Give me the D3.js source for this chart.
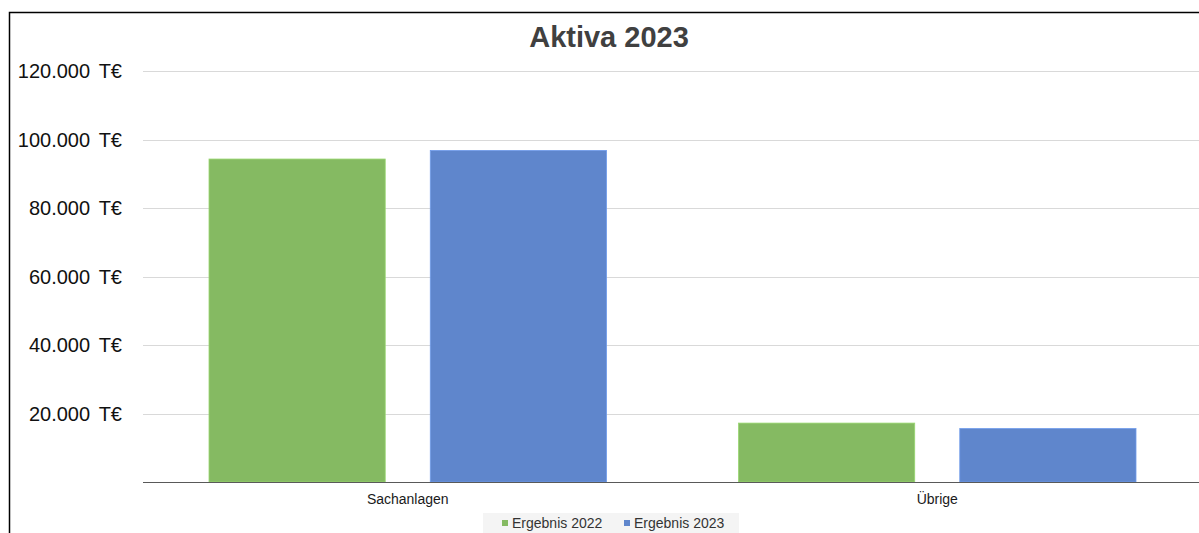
<!DOCTYPE html>
<html><head><meta charset="utf-8">
<script src="https://cdn.jsdelivr.net/npm/d3@7"></script>
<style>body{margin:0;background:#fff;overflow:hidden}svg{display:block}</style>
</head><body>
<svg id="c" width="1199" height="533"></svg>
<script>
const categories = ["Sachanlagen", "Übrige"];
const seriesNames = ["Ergebnis 2022", "Ergebnis 2023"];
const values2022 = [94300, 17200];
const values2023 = [96800, 15600];
const yTicks = [20000, 40000, 60000, 80000, 100000, 120000];
const colors = ["#85BA62", "#5F86CC"];

(function(){
const svg = d3.select("#c");
const W = 1199, H = 533;
const FF = "Liberation Sans, Arial, sans-serif";
svg.append("rect").attr("x",0).attr("y",0).attr("width",W).attr("height",H).attr("fill","#fff");
// frame
svg.append("rect").attr("x",9.5).attr("y",12.5).attr("width",1300).attr("height",600)
  .attr("fill","none").attr("stroke","#000").attr("stroke-width",1.5);

const pl = 143, pr = 1202, pt = 71, pb = 482;
const x = d3.scaleBand().domain(categories).range([pl, pr]).paddingInner(0).paddingOuter(0);
const bw = x.bandwidth();
const x1 = d3.scaleBand().domain(seriesNames).range([66, bw-66]).paddingInner(45/221).paddingOuter(0);
const y = d3.scaleLinear().domain([0,120000]).range([pb, pt]);

// gridlines
svg.append("g").selectAll("line").data(yTicks).join("line")
  .attr("x1", pl).attr("x2", W).attr("y1", d=>Math.round(y(d))+0.5).attr("y2", d=>Math.round(y(d))+0.5)
  .attr("stroke","#d9d9d9").attr("stroke-width",1);

// y labels
const yl = svg.append("g").selectAll("text").data(yTicks).join("text")
  .attr("x", 122).attr("y", d=>y(d)).attr("dy","0.35em")
  .attr("text-anchor","end").attr("font-family",FF)
  .attr("font-size",20).attr("fill","#111");
yl.append("tspan").text(d => d3.format(",")(d).replace(/,/g, ".") + "\u00a0");
yl.append("tspan").attr("dx",3).text("T€");

// bars
const data = categories.map((c,i)=>({cat:c, vals:[values2022[i], values2023[i]]}));
const g = svg.append("g");
data.forEach(d=>{
  d.vals.forEach((v,j)=>{
    g.append("rect")
      .attr("x", x(d.cat)+x1(seriesNames[j]))
      .attr("y", y(v))
      .attr("width", x1.bandwidth())
      .attr("height", y(0)-y(v))
      .attr("fill", colors[j])
      .attr("stroke", d3.color(colors[j]).brighter(0.4)).attr("stroke-width",0.8);
  });
});

// baseline
svg.append("line").attr("x1",pl).attr("x2",W).attr("y1",pb+0.5).attr("y2",pb+0.5)
  .attr("stroke","#595959").attr("stroke-width",1);

// category labels
svg.append("g").selectAll("text").data(categories).join("text")
  .attr("x", d=>x(d)+bw/2).attr("y", 499).attr("dy","0.35em")
  .attr("text-anchor","middle").attr("font-family",FF)
  .attr("font-size",14).attr("fill","#1a1a1a").text(d=>d);

// title
svg.append("text").attr("x",609).attr("y",37).attr("dy","0.35em").attr("text-anchor","middle")
  .attr("font-family",FF).attr("font-weight","bold")
  .attr("font-size",29).attr("fill","#404040").text("Aktiva 2023");

// legend
const lg = svg.append("g");
lg.append("rect").attr("x",483).attr("y",513).attr("width",256).attr("height",25).attr("fill","#f4f4f4");
const lx = [502, 624];
seriesNames.forEach((s,i)=>{
  lg.append("rect").attr("x",lx[i]).attr("y",520).attr("width",6).attr("height",6).attr("fill",colors[i]);
  lg.append("text").attr("x",lx[i]+10).attr("y",523.5).attr("dy","0.35em")
    .attr("font-family",FF).attr("font-size",14).attr("fill","#333")
    .text(s);
});
})();
</script>
</body></html>
